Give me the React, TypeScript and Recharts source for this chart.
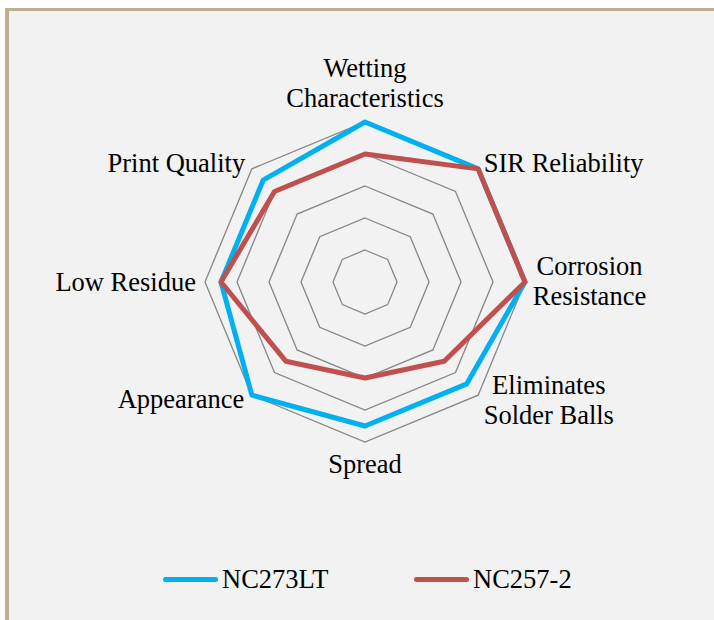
import React from "react";
import { RadarChart, Radar, PolarGrid, PolarAngleAxis, PolarRadiusAxis, Legend } from "recharts";

const categories = [
  "Wetting\nCharacteristics",
  "SIR Reliability",
  "Corrosion\nResistance",
  "Eliminates\nSolder Balls",
  "Spread",
  "Appearance",
  "Low Residue",
  "Print Quality",
];
const seriesNames = ["NC273LT", "NC257-2"];
const nc273lt = [5, 5, 5, 4.5, 4.5, 5, 4.5, 4.5];
const nc257 = [4, 5, 5, 3.5, 3, 3.5, 4.5, 4];

const data = categories.map((c, i) => ({ cat: c, a: nc273lt[i], b: nc257[i] }));

const FONT = "Liberation Serif, Times New Roman, serif";
const FS = 26.5;

// label placement relative to the tick point (anchor, dx, first baseline dy)
const labelLayout: Record<number, [string, number, number]> = {
  0: ["middle", 0, -37],
  1: ["start", 0, 9],
  2: ["middle", 56.5, -7],
  3: ["middle", 65, -7],
  4: ["middle", 0, 23],
  5: ["end", -2, 7],
  6: ["end", -1, 8.7],
  7: ["end", -1, 8.5],
};

function AngleTick(props: any) {
  const { x, y, payload } = props;
  const idx = categories.indexOf(payload.value);
  const [anchor, dx, dy] = labelLayout[idx] || ["middle", 0, 0];
  const lines = String(payload.value).split("\n");
  return (
    <text
      x={x + dx}
      y={y + dy}
      textAnchor={anchor as any}
      style={{ fontFamily: FONT, fontSize: FS }}
      fill="#000"
    >
      {lines.map((l, i) => (
        <tspan key={i} x={x + dx} dy={i === 0 ? 0 : 30}>
          {l}
        </tspan>
      ))}
    </text>
  );
}

function LegendContent(props: any) {
  const items = [...(props.payload || [])].sort(
    (p: any, q: any) => seriesNames.indexOf(p.value) - seriesNames.indexOf(q.value)
  );
  const lefts = [154, 405];
  return (
    <div style={{ position: "relative", width: 705, height: 40 }}>
      {items.map((it: any, i: number) => (
        <div
          key={it.value}
          style={{ position: "absolute", left: lefts[i], top: 13, display: "flex", alignItems: "center" }}
        >
          <div style={{ width: 55, height: 5, borderRadius: 3, background: it.color }} />
          <span style={{ fontFamily: FONT, fontSize: FS, color: "#000", marginLeft: 4, lineHeight: "30px" }}>
            {it.value}
          </span>
        </div>
      ))}
    </div>
  );
}

export default function App() {
  return (
    <div
      style={{
        position: "fixed",
        left: 5,
        top: 8,
        width: 709,
        height: 612,
        boxSizing: "border-box",
        borderLeft: "4px solid #bcb08f",
        borderTop: "3px solid #bcb08f",
        background: "#f2f2f2",
      }}
    >
      <RadarChart width={705} height={609} data={data} cx={356} cy={271} outerRadius={160} margin={{ top: 0, right: 0, bottom: 0, left: 0 }}>
        <PolarGrid gridType="polygon" radialLines={false} stroke="#868686" strokeWidth={1.3} />
        <PolarAngleAxis dataKey="cat" tick={<AngleTick />} tickLine={false} axisLine={false} />
        <PolarRadiusAxis domain={[0, 5]} tickCount={6} tick={false} axisLine={false} />
        <Radar
          name={seriesNames[0]}
          dataKey="a"
          stroke="#00b0f0"
          strokeWidth={5}
          strokeLinejoin="round"
          fill="none"
          fillOpacity={0}
          dot={false}
          isAnimationActive={false}
        />
        <Radar
          name={seriesNames[1]}
          dataKey="b"
          stroke="#c0504d"
          strokeWidth={5}
          strokeLinejoin="round"
          fill="none"
          fillOpacity={0}
          dot={false}
          isAnimationActive={false}
        />
        <Legend
          content={<LegendContent />}
          wrapperStyle={{ position: "absolute", left: 0, top: 540, width: 705, height: 40 }}
        />
      </RadarChart>
    </div>
  );
}
